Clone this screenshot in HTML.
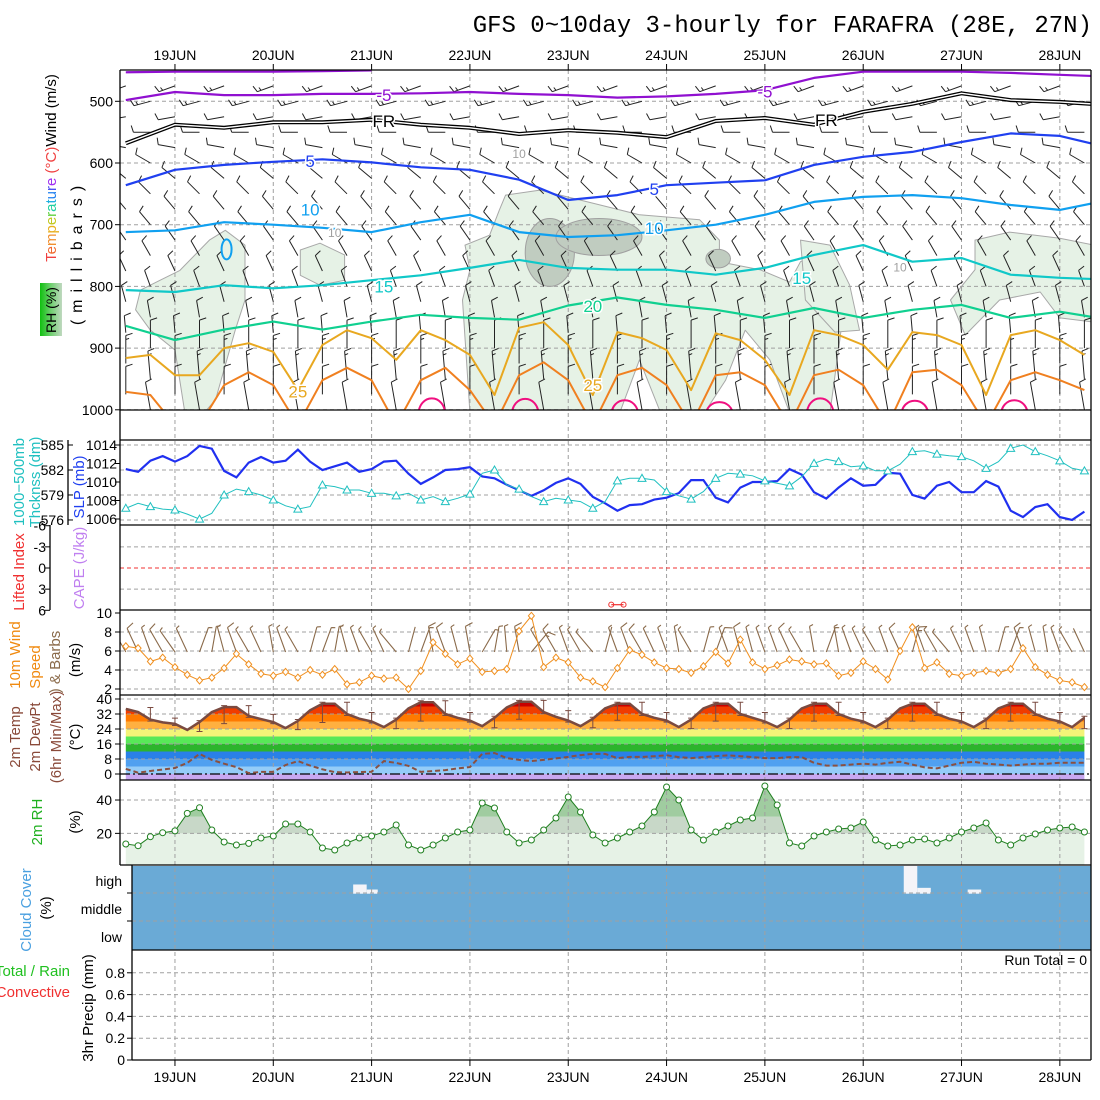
<!DOCTYPE html>
<html><head><meta charset="utf-8"><title>GFS meteogram FARAFRA</title>
<style>
html,body{margin:0;padding:0;background:#fff;}
svg{display:block;font-family:"Liberation Sans",sans-serif;}
.tk{font-size:14px;fill:#000;}
.lbl{font-size:15px;}
</style></head>
<body>
<svg id="chart" width="1100" height="1100" viewBox="0 0 1100 1100" xmlns="http://www.w3.org/2000/svg">
<defs>
<clipPath id="c1"><rect x="120" y="70" width="971" height="340"/></clipPath>
<clipPath id="c2"><rect x="120" y="440" width="971" height="85"/></clipPath>
<clipPath id="c4"><rect x="120" y="611" width="971" height="84"/></clipPath>
<clipPath id="c5"><rect x="120" y="696" width="971" height="84"/></clipPath>
<clipPath id="c6"><rect x="120" y="781" width="971" height="84"/></clipPath>
<linearGradient id="rhg" x1="0" x2="1" y1="0" y2="0"><stop offset="0" stop-color="#10c010"/><stop offset="0.5" stop-color="#70d070"/><stop offset="1" stop-color="#c0d8c0"/></linearGradient>
</defs>

<text x="1092" y="32" text-anchor="end" style="font-family:'Liberation Mono',monospace;font-size:24px;">GFS 0~10day 3-hourly for FARAFRA (28E, 27N)</text>

<g>
<text transform="translate(56,168) rotate(-90)" text-anchor="middle" class="lbl"><tspan fill="#f04040">T</tspan><tspan fill="#f06a30">e</tspan><tspan fill="#f09030">m</tspan><tspan fill="#e8b020">p</tspan><tspan fill="#c0c820">e</tspan><tspan fill="#60d040">r</tspan><tspan fill="#20d0a0">a</tspan><tspan fill="#20b0e0">t</tspan><tspan fill="#2080f0">u</tspan><tspan fill="#5050f0">r</tspan><tspan fill="#a030f0">e</tspan><tspan fill="#f04040"> (°C)</tspan><tspan fill="#000">Wind (m/s)</tspan></text>
<text transform="translate(82,252) rotate(-90)" text-anchor="middle" style="font-size:16px;letter-spacing:7px">(millibars)</text>
<rect x="40" y="283" width="22" height="53" fill="url(#rhg)"/>
<text transform="translate(56,310) rotate(-90)" text-anchor="middle" style="font-size:14px">RH (%)</text>
</g>
<g>
<text transform="translate(24,482) rotate(-90)" text-anchor="middle" class="lbl" fill="#20c0c0">1000−500mb</text>
<text transform="translate(40,482) rotate(-90)" text-anchor="middle" class="lbl" fill="#20c0c0">Thcknss (dm)</text>
<text transform="translate(84,487) rotate(-90)" text-anchor="middle" class="lbl" fill="#2040f0">SLP (mb)</text>
<text transform="translate(24,572) rotate(-90)" text-anchor="middle" class="lbl" fill="#f03030">Lifted Index</text>
<text transform="translate(84,568) rotate(-90)" text-anchor="middle" class="lbl" fill="#c080f0">CAPE (J/kg)</text>
</g>
<g>
<text transform="translate(20,655) rotate(-90)" text-anchor="middle" class="lbl" fill="#f08a10">10m Wind</text>
<text transform="translate(40,667) rotate(-90)" text-anchor="middle" class="lbl" fill="#f08a10">Speed</text>
<text transform="translate(60,662) rotate(-90)" text-anchor="middle" class="lbl" fill="#8a6a4a">) &amp; Barbs</text>
<text transform="translate(80,660) rotate(-90)" text-anchor="middle" class="lbl" fill="#000">(m/s)</text>
</g>
<g>
<text transform="translate(20,737) rotate(-90)" text-anchor="middle" class="lbl" fill="#8a4a3a">2m Temp</text>
<text transform="translate(40,737) rotate(-90)" text-anchor="middle" class="lbl" fill="#8a4a3a">2m DewPt</text>
<text transform="translate(61,737) rotate(-90)" text-anchor="middle" class="lbl" fill="#8a4a3a">(6hr Min/Max)</text>
<text transform="translate(80,737) rotate(-90)" text-anchor="middle" class="lbl" fill="#000">(°C)</text>
</g>
<g>
<text transform="translate(42,822) rotate(-90)" text-anchor="middle" class="lbl" fill="#20b020">2m RH</text>
<text transform="translate(80,822) rotate(-90)" text-anchor="middle" class="lbl" fill="#000">(%)</text>
</g>
<g>
<text transform="translate(31,910) rotate(-90)" text-anchor="middle" class="lbl" fill="#4aa0e0">Cloud Cover</text>
<text transform="translate(51,908) rotate(-90)" text-anchor="middle" class="lbl" fill="#000">(%)</text>
<text x="122" y="886" text-anchor="end" class="tk">high</text>
<text x="122" y="914" text-anchor="end" class="tk">middle</text>
<text x="122" y="942" text-anchor="end" class="tk">low</text>
</g>
<g>
<text x="70" y="976" text-anchor="end" class="lbl" fill="#20c020">Total / Rain</text>
<text x="70" y="997" text-anchor="end" class="lbl" fill="#f03030">Convective</text>
<text transform="translate(93,1008) rotate(-90)" text-anchor="middle" class="lbl" fill="#000">3hr Precip (mm)</text>
<text x="1087" y="965" text-anchor="end" class="tk">Run Total = 0</text>
</g>

<g id="gBack"></g>
<g id="gMarks"></g>
<g id="gFrame"></g>
</svg>

<script>
// ---------------- DATA ----------------
const days = ["19JUN","20JUN","21JUN","22JUN","23JUN","24JUN","25JUN","26JUN","27JUN","28JUN"];
const presTicks = [500,600,700,800,900,1000];
const slpTicks = [1014,1012,1010,1008,1006];
const thkTicks = [585,582,579,576];
const liTicks = [-6,-3,0,3,6];
const windTicks = [10,8,6,4,2];
const tempTicks = [40,32,24,16,8,0];
const rhTicks = [40,20];
const precTicks = [0,0.2,0.4,0.6,0.8];

const slp = [1011.4,1011.1,1012.3,1012.8,1012.2,1012.8,1013.9,1013.6,1011.2,1010.5,1012.1,1012.7,1012.1,1012.3,1013.5,1012.2,1011.3,1011.7,1012.1,1011.1,1011.4,1012.2,1012.3,1010.9,1009.8,1010.5,1011.3,1011.4,1011.6,1010.6,1010.4,1009.7,1009.1,1008.5,1009.1,1009.9,1010.4,1009.8,1008.4,1007.7,1006.9,1007.5,1007.6,1008.1,1008.3,1008.8,1010.2,1010.2,1008.3,1007.8,1009.4,1010,1010,1010.1,1011.4,1010.8,1008.9,1008.2,1009.4,1010.4,1009.6,1009.7,1011,1010.9,1008.6,1008.2,1009.6,1010,1008.9,1008.9,1010.1,1009.5,1006.9,1006.2,1007.3,1007.6,1006.2,1005.9,1006.8];
const thick = [577.4,578.0,577.6,577.3,577.2,576.7,576.1,576.8,579.0,579.7,579.4,579.0,578.4,577.7,577.3,577.6,580.2,580.0,579.6,579.6,579.2,579.2,578.9,579.2,578.4,578.8,578.2,578.6,579.1,581.6,582.0,580.2,579.7,578.8,578.2,578.6,578.4,578.2,577.4,578.2,580.7,581.0,581.0,580.8,579.4,578.9,578.5,579.4,581.0,581.6,581.5,581.3,580.7,580.4,580.1,581.2,582.8,583.3,583.0,582.4,582.5,581.9,581.9,582.7,584.2,584.3,583.9,583.7,583.6,583.1,582.2,583.0,584.6,585.0,584.2,583.7,583.1,582.2,581.9];
const wspd = [6.5,6.3,4.9,5.3,4.3,3.5,2.9,3.2,4.2,5.7,4.6,3.6,3.4,3.8,3.2,4.0,3.5,4.1,2.5,2.7,3.4,3.1,3.2,2.0,3.9,6.9,5.7,4.6,5.2,3.8,3.9,4.1,8.1,9.7,4.3,5.3,4.8,3.2,2.8,2.2,4.2,6.1,5.6,4.8,4.2,4.1,3.7,4.4,5.9,4.7,7.2,4.8,4.1,4.5,5.1,4.9,4.6,4.7,3.4,3.7,4.9,4.1,3.0,6.0,8.5,4.2,4.8,3.6,3.4,3.7,3.9,3.7,4.1,6.3,4.3,3.5,2.9,2.7,2.2];
const wdir = [330,335,340,330,325,335,20,10,345,340,330,335,350,340,330,15,20,10,345,340,330,335,320,15,20,350,340,345,350,30,10,355,350,40,330,330,340,330,320,15,340,340,330,335,340,350,330,15,20,340,345,345,340,340,335,330,350,20,350,340,335,330,340,335,15,340,330,320,335,340,345,15,20,340,345,350,340,330,335];
const temp2m = [34.7,33,29,27.5,26.7,23.5,27.7,33,35.7,35.7,31,29.3,27.7,24.5,28.3,34,37.5,37.5,32,29.5,28,25,29,35,38.3,38.3,32,30,28.5,25.5,30,35.5,38.5,38.5,33,30.5,28.5,25.5,29.5,35,37.5,37.5,32,30,28.5,25,29,35,37.5,37.5,32,30,28,25,29,35,37.5,37.5,32,29.5,28,25,29,35,37.5,37.5,32,29.5,28,25,29,35,37.5,37.5,32,29.5,28,25,30];
const dewpt = [2.7,0.7,1.6,2.4,3.2,5.9,10.7,7.5,5.5,3.7,0.5,1.1,1.1,4.8,6.9,4.5,2.5,1.0,0.8,1.0,1.2,6.9,5.9,4.3,1.1,1.6,2.1,3.0,3.7,10.7,11.2,8.5,7.5,6.9,7.5,8.3,9.1,10.1,10.7,10.7,8.5,9.1,9.1,9.5,10,9,8.5,9,9.5,10,9.5,9,8.5,8.5,9,9,6,4.5,4.5,5,5.5,5,6,6.5,5,3.5,3,4.5,6,6.5,5.5,5,4.5,5,5.5,5.5,6,6,6];
const rh2m = [13.6,12.6,18,20.4,21.5,32,35.4,22,14.8,13,14,17.2,18.4,25.6,25.6,20.8,11.2,10,14.2,17.2,18.4,20.8,25,13,10,13,17.2,20.8,22,38.2,35.2,20.8,14.2,16,22,29.2,41.8,32.8,19,14.2,17.2,20.8,24.4,32.8,47.8,40,22,16,20.8,24.4,28,29.2,48.4,37,14.2,12.4,18.4,20.8,22.6,23.2,26.8,16,12.4,13,16,16.6,14.2,17.2,20.8,23.2,26.2,16,13,17.2,19.6,22,23.2,23.8,20.8];
const capeIdx = [39.5,40.5];
const capeLI = [5.2,5.2];

const tMinus5 = [498,485,490,490,488,488,487,485,488,490,494,492,488,482,462,452,452,452,454,457,460];
const tMinus5Top = [453,452,452,452,451,450];
const tFreeze = [568,538,543,534,534,530,538,543,553,547,551,558,532,527,538,517,504,487,498,501,506];
const tPlus5 = [636,611,603,598,594,599,607,611,627,660,652,636,632,628,603,590,582,566,552,556,575];
const tPlus10 = [712,709,696,700,705,712,696,684,712,720,717,709,700,684,663,655,652,657,668,676,660];
const tPlus15 = [806,809,798,803,798,790,782,770,757,770,773,773,781,770,749,733,760,754,781,786,789];
const tPlus20 = [864,887,870,857,870,857,846,851,854,831,818,830,838,851,835,851,838,830,851,841,854];
const tPlus25 = [916,911,944,944,900,892,906,968,895,871,884,919,871,887,911,976,867,858,895,976,874,884,903,968,876,887,919,976,871,879,895,935,874,879,895,976,879,871,887,911];
const tPlus30 = [971,976,1025,1025,960,939,960,1025,952,932,952,1025,952,932,968,1025,944,923,952,1025,944,932,960,1025,944,939,960,1025,944,935,960,1025,939,935,960,1025,952,939,952,968];
const t35Centers = [24.9,32.5,40.6,48.3,56.5,64.2,72.3];
const t35Tops = [972,973,976,980,972,977,976];

const rhA_t = [1.2,2.8,4.4,6.8,8.1,9.7,9.7,8.9,7.3,6.4,4.8,4.0,2.0,0.8];
const rhA_p = [806,790,774,725,709,733,822,871,984,1004,1004,903,871,838];
const rhB_t = [14.2,15.8,17.8,17.8,15.8,14.2];
const rhB_p = [741,730,749,790,798,782];
const rhC_t = [30.9,33.7,38.6,41.8,46.7,48.3,48.3,51.6,54.0,54.9,57.3,58.5,58.1,57.3,54.0,52.4,50.4,48.8,47.1,43.5,41.8,40.2,28.0,27.4,28.0,27.6,29.6,30.4];
const rhC_p = [652,644,668,684,692,725,760,773,793,760,741,822,887,1004,1004,919,871,952,1004,1004,919,1004,1004,822,773,733,717,676];
const rhD_t = [69.1,71.9,76.0,78.8,78.8,76.0,74.4,71.1,68.3,67.1,69.1];
const rhD_p = [725,712,722,733,858,851,809,822,879,822,773];
const rhE_t = [54.9,57.3,58.9,59.7,57.7,55.3];
const rhE_p = [725,733,798,871,874,822];
const rhDarkT = [34.5,38.5,48.2];
const rhDarkP = [745,720,755];
const rhDarkRt = [2.0,3.5,1.0];
const rhDarkRp = [55,30,15];

const barbLevels = [475,500,525,550,575,600,625,650,675,700,725,750,775,800,825,850,875,900,925,950,975,1000];
const barbDir = [250,255,260,270,280,300,310,315,320,320,325,330,335,340,345,350,355,360,360,355,0,350];
const barbSpd = [8,8,7,7,6,6,6,5,5,5,5,5,5,5,5,5,6,7,8,8,7,7];

const cloudGapStart = [18.5,19.6,63.3,64.4,68.5];
const cloudGapEnd = [19.6,20.5,64.4,65.5,69.6];
const cloudGapTop = [0.22,0.28,0.0,0.26,0.28];
const cloudGapBot = [0.33,0.33,0.33,0.33,0.33];

// ---------------- SCALES ----------------
const X = i => 125.8 + i*12.29;
const yP = p => 101.3 + (p-500)*0.617;
const ySLP = v => 445 + (1014-v)*9.25;
const yTH = v => 445 + (585-v)*8.33;
const yLI = v => 568 + v*7.05;
const yW = v => 613 + (10-v)*9.5;
const yT = v => 774 - v*1.875;
const yRH = v => 866.7 - v*1.667;
const yPR = v => 1060 - v*109;

const NS = "http://www.w3.org/2000/svg";
const back = document.getElementById('gBack');
const marks = document.getElementById('gMarks');
const frame = document.getElementById('gFrame');
function el(tag, attrs, parent){
  const e = document.createElementNS(NS, tag);
  for (const k in attrs) e.setAttribute(k, attrs[k]);
  (parent||marks).appendChild(e);
  return e;
}
function pts(xs, ys){ return xs.map((x,i)=>x.toFixed(1)+','+ys[i].toFixed(1)).join(' '); }

// temperature bands
const tpoly = [];
temp2m.forEach((v,i)=>tpoly.push(X(i).toFixed(1)+','+yT(v).toFixed(1)));
tpoly.push(X(temp2m.length-1).toFixed(1)+',780', X(0).toFixed(1)+',780');
const cpT = el('clipPath',{id:'tclip'}, document.querySelector('defs'));
el('polygon',{points:tpoly.join(' ')}, cpT);
const bandLo = [-4,0,4,8,12,16,20,24,28,32,36];
const bandCol = ['#c8a8f0','#94ccf8','#50a0f0','#2a80e8','#2cb42c','#58e858','#f4f478','#ffb040','#ff7a00','#f03c00','#c80000'];
const tband = el('g',{'clip-path':'url(#tclip)'}, back);


bandLo.forEach((lo,k)=>{
  const top = Math.max(yT(lo+4), 696), bot = Math.min(yT(lo), 780);
  const r = el('rect',{x:120,y:top,width:971,height:bot-top,fill:bandCol[k]}, tband);
  
  
});

// RH shading
const rpoly = [];
rh2m.forEach((v,i)=>rpoly.push(X(i).toFixed(1)+','+yRH(v).toFixed(1)));
rpoly.push(X(rh2m.length-1).toFixed(1)+',865', X(0).toFixed(1)+',865');
const cpR = el('clipPath',{id:'rclip'}, document.querySelector('defs'));
el('polygon',{points:rpoly.join(' ')}, cpR);
const rhg = el('g',{'clip-path':'url(#rclip)'}, back);


const rhBandLo = [0,20,30];
const rhBandHi = [20,30,60];
const rhBandCol = ['#e6f2e6','#c8d8c8','#a0cca0'];
rhBandLo.forEach((lo,k)=>{
  const top = Math.max(yRH(rhBandHi[k]),781), bot = yRH(lo);
  const r = el('rect',{x:120,y:top,width:971,height:bot-top,fill:rhBandCol[k]}, rhg);
  
  
});

// Cloud panel
const cloudBg = el('rect',{x:132,y:866,width:959,height:84,fill:'#6aaad6'}, back);


cloudGapStart.forEach((s,k)=>{
  const y0 = 866 + cloudGapTop[k]*84, y1 = 866 + cloudGapBot[k]*84;
  const r = el('rect',{x:X(s),y:y0,width:X(cloudGapEnd[k])-X(s),height:y1-y0,fill:'#f4f4f8'}, back);
  
  
});

// Upper-air RH regions
const g1 = el('g',{'clip-path':'url(#c1)'}, back);


[[rhA_t,rhA_p],[rhB_t,rhB_p],[rhC_t,rhC_p],[rhD_t,rhD_p],[rhE_t,rhE_p]].forEach((r,k)=>{
  const pg = el('polygon',{points:pts(r[0].map(X), r[1].map(yP)), fill:'#e6f2e6', stroke:'#a8a8a8','stroke-width':1,'stroke-linejoin':'round'}, g1);
  
  
});
rhDarkT.forEach((t,k)=>{
  const e = el('ellipse',{cx:X(t),cy:yP(rhDarkP[k]),rx:rhDarkRt[k]*12.29,ry:rhDarkRp[k]*0.617,fill:'#c0ccc0',stroke:'#a0a0a0','stroke-width':1}, g1);
  
  
});

// GRID
const grid = el('g',{stroke:'#a0a0a0','stroke-width':1,'stroke-dasharray':'4,3',fill:'none'}, back);


days.forEach((d,k)=>{
  const x = X(4+8*k);
  const l = el('line',{x1:x,y1:70,x2:x,y2:1060}, grid);
  
  
});
function hgrid(y, x0){
  const l = el('line',{x1:x0,y1:y,x2:1091,y2:y}, grid);
  
  
}
presTicks.forEach(p=>hgrid(yP(p),120));
thkTicks.forEach(v=>hgrid(yTH(v),120));
[-3,3].forEach(v=>hgrid(yLI(v),120));
windTicks.slice(1).forEach(v=>hgrid(yW(v),120));
tempTicks.slice(0,5).forEach(v=>hgrid(yT(v),120));
rhTicks.forEach(v=>hgrid(yRH(v),120));
hgrid(893,132); hgrid(921,132);
precTicks.slice(1).forEach(v=>hgrid(yPR(v),132));
const liZero = el('line',{x1:120,y1:yLI(0),x2:1091,y2:yLI(0),stroke:'#f03030','stroke-width':1,'stroke-dasharray':'4,3'}, back);


const tZero = el('line',{x1:120,y1:yT(0),x2:1091,y2:yT(0),stroke:'#000','stroke-width':1.2,'stroke-dasharray':'10,3,2,3'}, back);



// UPPER AIR
function barb(g, x, y, dir, spd, L, bl, unit){
  const a = dir*Math.PI/180;
  const ux = Math.sin(a), uy = -Math.cos(a);
  const ex = x + ux*L, ey = y + uy*L;
  let d = 'M'+x.toFixed(1)+','+y.toFixed(1)+'L'+ex.toFixed(1)+','+ey.toFixed(1);
  const b = a + Math.PI*0.4;
  const bx = Math.sin(b), by = -Math.cos(b);
  const n = Math.floor(spd/unit), half = (spd%unit)>=unit/2;
  let pos = 0;
  for (let k=0;k<n;k++){
    const sx = ex - ux*pos, sy = ey - uy*pos;
    d += 'M'+sx.toFixed(1)+','+sy.toFixed(1)+'l'+(bx*bl).toFixed(1)+','+(by*bl).toFixed(1);
    pos += 4;
  }
  if (half){
    const sx = ex - ux*pos, sy = ey - uy*pos;
    d += 'M'+sx.toFixed(1)+','+sy.toFixed(1)+'l'+(bx*bl/2).toFixed(1)+','+(by*bl/2).toFixed(1);
  }
  const p = el('path',{d:d}, g);
  
  
}
const barbsG = el('g',{stroke:'#222','stroke-width':1,fill:'none','clip-path':'url(#c1)'});


barbLevels.forEach((lv,r)=>{
  for (let i=(r%2)*2; i<79; i+=4){
    barb(barbsG, X(i), yP(lv), barbDir[r], barbSpd[r], lv>=900?28:17, 7, 5);
  }
});
const ua = el('g',{'clip-path':'url(#c1)',fill:'none'});


function contour(arr, step, color, w, name){
  const xs = arr.map((v,i)=>X(i*step));
  const p = el('polyline',{points:pts(xs, arr.map(yP)), stroke:color,'stroke-width':w,'stroke-linejoin':'round'}, ua);
  
  
}
contour(tMinus5Top, 4, '#9010d0', 2.2, 'contour-minus5-top');
contour(tMinus5, 4, '#9010d0', 2.2, 'contour-minus5');
contour(tFreeze, 4, '#000', 4, 'contour-freezing-outer');
contour(tFreeze, 4, '#fff', 1.4, 'contour-freezing-inner');
contour(tPlus5, 4, '#2040f0', 2.2, 'contour-5c');
contour(tPlus10, 4, '#10a0f0', 2.2, 'contour-10c');
contour(tPlus15, 4, '#10c8c8', 2.2, 'contour-15c');
contour(tPlus20, 4, '#10d090', 2.2, 'contour-20c');
contour(tPlus25, 2, '#e8a820', 2, 'contour-25c');
contour(tPlus30, 2, '#f08020', 2, 'contour-30c');
t35Centers.forEach((c,k)=>{
  const x0 = X(c-1.1), x1 = X(c+1.1), yt = yP(t35Tops[k]), yb = yP(1010);
  const p = el('path',{d:`M${x0},${yb} C${x0},${yt} ${x1},${yt} ${x1},${yb}`, stroke:'#f01080','stroke-width':2}, ua);
  
  
});
const loop0 = el('ellipse',{cx:X(8.2),cy:yP(740),rx:5,ry:10,stroke:'#10a0f0','stroke-width':2}, ua);


const cl = [["-5",21,490,'#9010d0'],["-5",52,484,'#9010d0'],["FR",21,532,'#000'],["FR",57,530,'#000'],["5",15,597,'#2040f0'],["5",43,642,'#2040f0'],["10",15,675,'#10a0f0'],["10",43,705,'#10a0f0'],["15",21,800,'#10c8c8'],["15",55,786,'#10c8c8'],["20",38,832,'#10d090'],["25",14,970,'#e8a820'],["25",38,960,'#e8a820'],["10",32,582,'#a0a0a0'],["10",17,710,'#a0a0a0'],["10",63,766,'#a0a0a0']];
cl.forEach(c=>{
  const t = el('text',{x:X(c[1]),y:yP(c[2])+6,'text-anchor':'middle',fill:c[3],stroke:'#fff','stroke-width':3,'paint-order':'stroke','font-size':c[3]==='#a0a0a0'?12:17}, ua);
  t.textContent = c[0];
  
  
});

// SLP / THICKNESS
const slpLine = el('polyline',{points:pts(slp.map((v,i)=>X(i)), slp.map(ySLP)), fill:'none', stroke:'#2030f0','stroke-width':2.2});


const thLine = el('polyline',{points:pts(thick.map((v,i)=>X(i)), thick.map(yTH)), fill:'none', stroke:'#20c0c0','stroke-width':1});


thick.forEach((v,i)=>{
  if (i%2) return;
  const x = X(i), y = yTH(v);
  const t = el('polygon',{points:`${x},${y-4} ${x-4},${y+3} ${x+4},${y+3}`, fill:'#fff', stroke:'#20c0c0','stroke-width':1});
  
  
});

const liM = el('polyline',{points:pts(capeIdx.map(X), capeLI.map(yLI)), stroke:'#f03030','stroke-width':1.2, fill:'none'});


capeIdx.forEach((t,k)=>{
  const c = el('circle',{cx:X(t),cy:yLI(capeLI[k]),r:2.5,fill:'none',stroke:'#f03030'});
  
  
});

// 10m WIND
const wb = el('g',{stroke:'#8a6a4a','stroke-width':1.1,fill:'none','clip-path':'url(#c4)'});


wdir.forEach((d,i)=>barb(wb, X(i), 652, d, wspd[i], 26, 8, 5));
const wl = el('polyline',{points:pts(wspd.map((v,i)=>X(i)), wspd.map(yW)), fill:'none', stroke:'#f09020','stroke-width':1});


wspd.forEach((v,i)=>{
  const x = X(i), y = yW(v);
  const m = el('polygon',{points:`${x},${y-3.5} ${x+3},${y} ${x},${y+3.5} ${x-3},${y}`, fill:'#fff', stroke:'#f09020','stroke-width':1});
  
  
});

// TEMPERATURE
const tl = el('polyline',{points:pts(temp2m.map((v,i)=>X(i)), temp2m.map(yT)), fill:'none', stroke:'#7a4a40','stroke-width':2.5});


const dl = el('polyline',{points:pts(dewpt.map((v,i)=>X(i)), dewpt.map(yT)), fill:'none', stroke:'#8a5040','stroke-width':2,'stroke-dasharray':'5,3'});


temp2m.forEach((v,i)=>{
  if (i<2 || i%2) return;
  const hi = Math.max(temp2m[i-2],temp2m[i-1],v)+0.8;
  const lo = Math.min(temp2m[i-2],temp2m[i-1],v)-0.8;
  const x = X(i);
  const b = el('path',{d:`M${x},${yT(hi)}V${yT(lo)}M${x-3},${yT(hi)}h6M${x-3},${yT(lo)}h6`, stroke:'#7a4a40','stroke-width':1, fill:'none'});
  
  
});

// RH
const rl = el('polyline',{points:pts(rh2m.map((v,i)=>X(i)), rh2m.map(yRH)), fill:'none', stroke:'#208020','stroke-width':1});


rh2m.forEach((v,i)=>{
  const c = el('circle',{cx:X(i),cy:yRH(v),r:3,fill:'#fff',stroke:'#208020','stroke-width':1});
  
  
});

// FRAMES
function line(x1,y1,x2,y2,name,w){
  const l = el('line',{x1:x1,y1:y1,x2:x2,y2:y2,stroke:'#000','stroke-width':w||1.3}, frame);
  
  
}
line(120,70,1091,70,'upper-frame-top');
line(120,410,1091,410,'upper-frame-bottom');
line(120,70,120,865,'left-axis');
line(1091,70,1091,1060,'right-frame');
[440,525,610,695,780,865].forEach(y=>line(120,y,1091,y,'panel-border'));
line(132,865,132,1060,'lower-left-axis');
line(132,950,1091,950,'panel-border');
line(132,1060,1091,1060,'bottom-axis');
line(68,440,68,525,'thickness-axis');
line(50,525,50,610,'li-axis');
function tick(x,y,txt,anchorX,name){
  line(x,y,x+5,y,'tick',1);
  const t = el('text',{x:anchorX,y:y+5,'text-anchor':'end',class:'tk'}, frame);
  t.textContent = txt;
  
  
}
presTicks.forEach(p=>tick(115,yP(p),p,113,'pressure-tick-label'));
slpTicks.forEach(v=>tick(115,ySLP(v),v,117,'slp-tick-label'));
thkTicks.forEach(v=>tick(68,yTH(v),v,64,'thickness-tick-label'));
liTicks.forEach(v=>tick(45,yLI(v),v,46,'li-tick-label'));
windTicks.forEach(v=>tick(115,yW(v),v,112,'wind-tick-label'));
tempTicks.forEach(v=>tick(115,yT(v),v,112,'temp-tick-label'));
rhTicks.forEach(v=>tick(115,yRH(v),v,112,'rh-tick-label'));
precTicks.forEach(v=>tick(127,yPR(v),v,125,'precip-tick-label'));
[893,921].forEach(y=>line(127,y,132,y,'cloud-tick',1));
days.forEach((d,k)=>{
  const x = X(4+8*k);
  line(x,64,x,70,'day-tick-top',1);
  line(x,1060,x,1066,'day-tick-bottom',1);
  const t1 = el('text',{x:x,y:60,'text-anchor':'middle',class:'tk'}, frame);
  t1.textContent = d;
  
  
  const t2 = el('text',{x:x,y:1082,'text-anchor':'middle',class:'tk'}, frame);
  t2.textContent = d;
  
  
});
</script>
</body></html>
